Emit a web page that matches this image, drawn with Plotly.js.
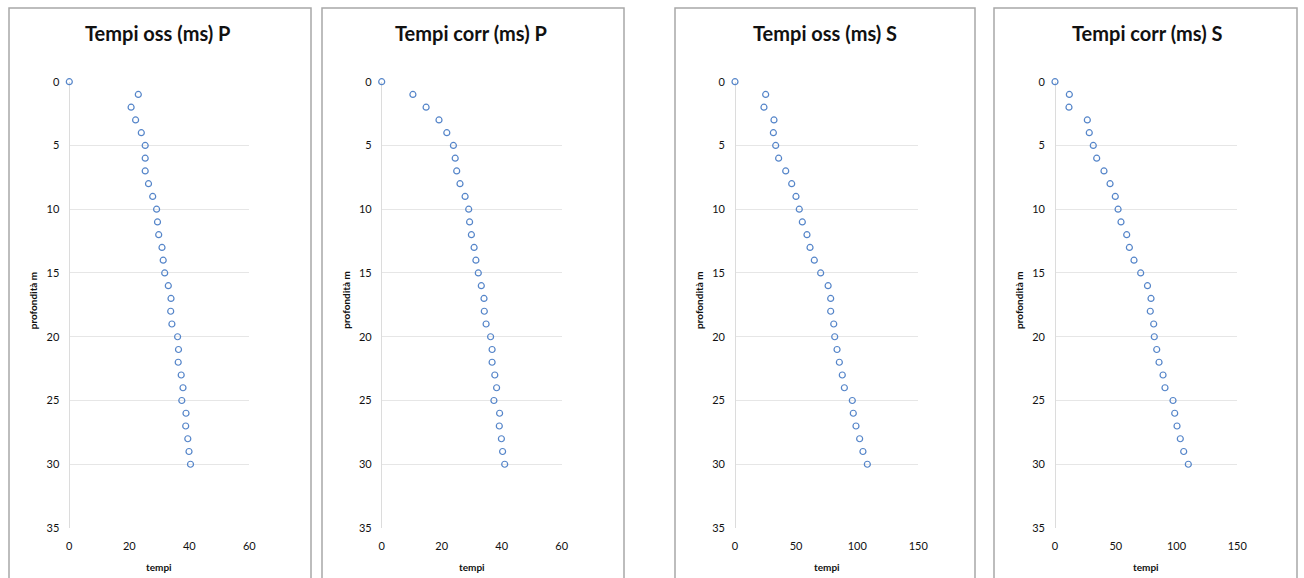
<!DOCTYPE html>
<html>
<head>
<meta charset="utf-8">
<script src="https://cdn.plot.ly/plotly-3.0.1.min.js"></script>
<style>html,body{margin:0;padding:0;background:#fff;}#chart{width:1304px;height:578px;}</style>
</head>
<body>
<div id="chart"></div>
<script>
// Depth (m)
const profondita = [0,1,2,3,4,5,6,7,8,9,10,11,12,13,14,15,16,17,18,19,20,21,22,23,24,25,26,27,28,29,30];
// Tempi osservati P (ms)
const tempiOssP = [0,23.0,20.6,22.1,24.0,25.3,25.3,25.3,26.4,27.8,29.1,29.4,29.8,30.9,31.3,31.8,33.0,33.9,33.8,34.2,36.1,36.4,36.3,37.3,37.9,37.5,38.9,38.8,39.5,39.9,40.4];
// Tempi corretti P (ms)
const tempiCorrP = [0,10.4,14.8,19.1,21.7,23.9,24.5,25.0,26.1,27.8,29.0,29.3,29.9,30.8,31.4,32.2,33.2,34.1,34.2,34.8,36.3,36.8,36.8,37.7,38.3,37.4,39.3,39.2,39.9,40.3,41.0];
// Tempi osservati S (ms)
const tempiOssS = [0,25.1,23.7,31.9,31.4,33.3,35.7,41.5,46.4,49.9,52.6,55.1,58.9,61.4,64.9,70.1,76.2,78.3,78.3,80.8,81.6,83.5,85.4,87.8,89.5,96.0,96.8,99.0,102.0,104.7,108.3];
// Tempi corretti S (ms)
const tempiCorrS = [0,11.8,11.5,26.6,28.2,31.5,34.3,40.3,45.3,49.6,51.9,54.3,59.0,61.2,65.0,70.5,76.1,79.0,78.4,81.2,81.7,83.7,85.6,88.9,90.5,97.1,98.5,100.4,103.1,105.9,109.7];

const titoli = ["Tempi oss (ms) P","Tempi corr (ms) P","Tempi oss (ms) S","Tempi corr (ms) S"];
const serie = [tempiOssP, tempiCorrP, tempiOssS, tempiCorrS];
const xMax = [60, 60, 150, 150];
const xStep = [20, 20, 50, 50];
const yTitle = "profondità m";
const xTitle = "tempi";

const W = 1304, H = 578;
const plotX = [[69.3,249.3],[381.7,561.7],[735,918.3],[1055,1237.3]];
const plotTop = 81.7, plotBot = 528;
const boxes = [[9,311],[322,624],[675,975],[994,1297]];
const titleX = [158,471,825,1147];

const font = "Lato, 'Open Sans', sans-serif";
const traces = [];
const layout = {
  width: W, height: H,
  margin: {l:0,r:0,t:0,b:0},
  paper_bgcolor: "#fff", plot_bgcolor: "#fff",
  showlegend: false,
  font: {family: font, color: "#222", size: 10},
  annotations: [], shapes: []
};

for (let i = 0; i < 4; i++) {
  const n = i === 0 ? "" : String(i+1);
  traces.push({
    type: "scatter", mode: "markers",
    x: serie[i], y: profondita,
    xaxis: "x"+n, yaxis: "y"+n,
    cliponaxis: false,
    marker: {symbol: "circle-open", size: 6, color: "#5585c9", line: {width: 1.2, color: "#5585c9"}},
    hoverinfo: "x+y"
  });
  layout["xaxis"+n] = {
    domain: [plotX[i][0]/W, plotX[i][1]/W],
    anchor: "y"+n,
    range: [0, xMax[i]], dtick: xStep[i], tick0: 0,
    showgrid: false, zeroline: true, zerolinecolor: "#dcdcdc", zerolinewidth: 1,
    showline: false, ticks: "",
    ticklabelstandoff: 10,
    tickfont: {family: font, size: 11, color: "#111"}
  };
  layout["yaxis"+n] = {
    domain: [1 - plotBot/H, 1 - plotTop/H],
    anchor: "x"+n,
    range: [35, 0], dtick: 5, tick0: 0,
    showgrid: true, gridcolor: "#e6e6e6", gridwidth: 1,
    zeroline: false, showline: false, ticks: "",
    ticklabelstandoff: 9,
    tickfont: {family: font, size: 11, color: "#111"}
  };
  layout.annotations.push({
    text: "<b>"+titoli[i]+"</b>", xref: "paper", yref: "paper",
    x: titleX[i]/W, y: 1 - 33/H, xanchor: "center", yanchor: "middle",
    showarrow: false, font: {family: font, size: 20, color: "#111"}
  });
  layout.annotations.push({
    text: "<b>"+yTitle+"</b>", xref: "paper", yref: "paper",
    x: (plotX[i][0]-36)/W, y: 1 - 300/H, xanchor: "center", yanchor: "middle",
    textangle: -90, showarrow: false, font: {family: font, size: 10, color: "#111"}
  });
  layout.annotations.push({
    text: "<b>"+xTitle+"</b>", xref: "paper", yref: "paper",
    x: (plotX[i][0]+plotX[i][1])/2/W, y: 1 - 567/H, xanchor: "center", yanchor: "middle",
    showarrow: false, font: {family: font, size: 10, color: "#111"}
  });
  layout.shapes.push({
    type: "rect", xref: "paper", yref: "paper",
    x0: boxes[i][0]/W, x1: boxes[i][1]/W, y0: -0.05, y1: 1 - 8/H,
    line: {color: "#a8a8a8", width: 1.5}, fillcolor: "rgba(0,0,0,0)", layer: "below"
  });
}

Plotly.newPlot("chart", traces, layout, {staticPlot: true, displayModeBar: false});
</script>
</body>
</html>
